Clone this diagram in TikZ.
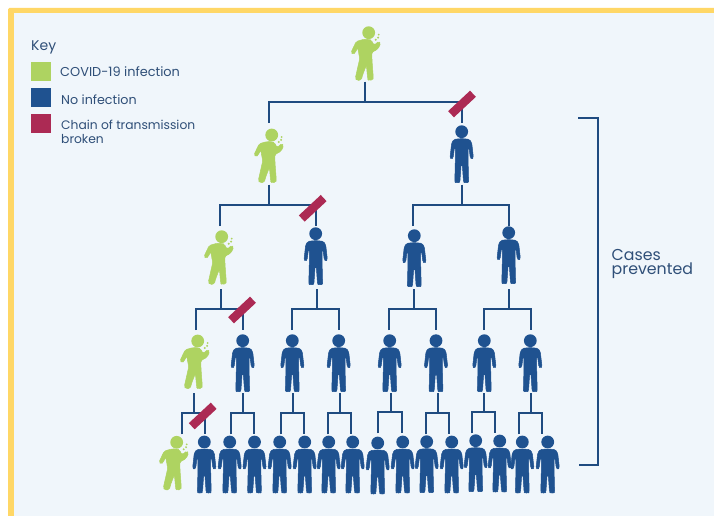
\documentclass[tikz,border=0pt]{standalone}
\usepackage{fontspec}
\setmainfont{Poppins}
\definecolor{paneBg}{HTML}{F0F6FB}
\definecolor{frameY}{HTML}{FFD766}
\definecolor{covGreen}{HTML}{AED361}
\definecolor{noBlue}{HTML}{1F5290}
\definecolor{lineBlue}{HTML}{1F4B80}
\definecolor{cutRed}{HTML}{AC2A54}
\definecolor{txtBlue}{HTML}{2F4F78}
\tikzset{
  bluefig/.pic={
    \fill[noBlue] (0,0) circle (6.4);
    \filldraw[fill=noBlue,draw=noBlue,line width=0.5pt,line join=round,rounded corners=1.4pt]
      (0,6.9) -- (7.6,7.6) -- (10,11) -- (11.7,26) -- (10.2,27.4) -- (8.6,26.2) -- (7.2,15.5)
      -- (6.4,16) -- (6.4,29) -- (6.9,50) -- (6,51) -- (2.8,51) -- (1.8,50) -- (0.6,33) -- (-0.6,33)
      -- (-1.8,50) -- (-2.8,51) -- (-6,51) -- (-6.9,50) -- (-6.4,29) -- (-6.4,16)
      -- (-7.2,15.5) -- (-8.6,26.2) -- (-10.2,27.4) -- (-11.7,26) -- (-10,11) -- (-7.6,7.6) -- cycle;
  },
  greenfig/.pic={
    \fill[covGreen] (0,0) circle (6.4);
    \fill[covGreen] (7,7) circle (1.1) (9.4,4.9) circle (1.1) (10,2) circle (1.0);
    \filldraw[fill=covGreen,draw=covGreen,line width=0.5pt,line join=round,rounded corners=1.6pt]
      (0.5,6.8) -- (-5,6.6) -- (-12.5,8.8) -- (-17.8,20) -- (-15.5,21.8) -- (-13.5,20) -- (-11,14.8)
      -- (-9,26) -- (-13.4,45.5) -- (-12,47.7) -- (-7.4,47.4) -- (-6,42) -- (-2.3,32.5)
      -- (-1,46.5) -- (0,47.5) -- (4,47.5) -- (4.6,45) -- (3.4,29) -- (3,19.5) -- (5.5,18.5)
      -- (9.5,16) -- (12,10.5) -- (10,8.6) -- (8,10.5) -- (5.2,12.5) -- (2.7,7.5) -- cycle;
  },
  conn/.style={draw=lineBlue,line width=1.8pt},
  cut/.style={fill=cutRed,rotate=43,minimum width=30pt,minimum height=8.5pt,inner sep=0pt},
  keybox/.style={minimum width=20pt,minimum height=19.5pt,inner sep=0pt},
  keytxt/.style={anchor=west,inner sep=0pt,text=txtBlue,align=left},
  slot/.style={minimum width=24pt,minimum height=58pt,inner sep=0pt}
}
% name, kind, head x, head y, in x, in y, out x, out y
\newcommand{\person}[8]{%
  \node[slot] (#1) at (#3,#4+22) {};
  \pic at (#3,#4) {#2};
  \coordinate (#1-in) at (#5,#6);
  \coordinate (#1-out) at (#7,#8);
}
% parent, left child, right child, bus y
\newcommand{\branch}[4]{%
  \coordinate (bus-#1) at (0,#4);
  \draw[conn] (#1-out) -- (#1-out |- bus-#1);
  \draw[conn] (#2-in) -- (#2-in |- bus-#1) -- (#3-in |- bus-#1) -- (#3-in);
}
\begin{document}
\begin{tikzpicture}[x=1pt,y=-1pt]
\useasboundingbox (0,0) rectangle (714,516);
\fill[white] (0,0) rectangle (714,516);
\fill[frameY,rounded corners=1.5pt] (8,8) -- (716,8) -- (716,518) -- (8,518) -- cycle;
\fill[paneBg] (13.5,13.5) rectangle (714,516);
% key
\node[keytxt,font=\fontsize{14}{16}\selectfont] (keyhead) at (31,47) {Key};
\node[keybox,fill=covGreen] (k1) at (41,71.5) {};
\node[keybox,fill=noBlue] (k2) at (41,97.5) {};
\node[keybox,fill=cutRed] (k3) at (41,123.5) {};
\node[keytxt,font=\fontsize{12.9}{14}\selectfont] (t1) at (60,72) {COVID-19 infection};
\node[keytxt,font=\fontsize{12.7}{14}\selectfont] (t2) at (61,100) {No infection};
\node[keytxt,font=\fontsize{12.3}{14}\selectfont] (t3) at (61,132) {Chain of transmission\\broken};
% people
\person{a}{greenfig}{368.7}{32.7}{364.7}{60}{364.7}{81.7}
\person{b1}{greenfig}{271.7}{135}{268.7}{123}{268.7}{184.7}
\person{b2}{bluefig}{461.7}{131.7}{461.7}{123}{461.7}{184.7}
\person{c1}{greenfig}{221.7}{236.7}{219.7}{226}{220.7}{289}
\person{c2}{bluefig}{315.7}{233.7}{315.7}{226}{317}{289}
\person{c3}{bluefig}{414.3}{235.7}{412.7}{226}{414}{289}
\person{c4}{bluefig}{508.7}{232.7}{509}{226}{509}{289}
\person{d1}{greenfig}{197.7}{341}{195.7}{330}{194}{393.3}
\person{d2}{bluefig}{242.7}{340.7}{242.7}{330}{242.7}{393.3}
\person{d3}{bluefig}{292.3}{340.7}{291.7}{330}{292.7}{393.3}
\person{d4}{bluefig}{338.7}{340.7}{338.7}{330}{339.7}{393.3}
\person{d5}{bluefig}{389.7}{340.7}{388.7}{330}{391}{393.3}
\person{d6}{bluefig}{436}{340.7}{436}{330}{438}{393.3}
\person{d7}{bluefig}{484.3}{340.7}{483.7}{330}{484}{393.3}
\person{d8}{bluefig}{530.3}{340.7}{531}{330}{531}{393.3}
\person{e1}{greenfig}{176.7}{442.3}{181.7}{434.3}{176}{490}
\person{e2}{bluefig}{204.3}{442}{205}{434.3}{204}{490}
\person{e3}{bluefig}{229.7}{442}{230.7}{434.3}{230}{490}
\person{e4}{bluefig}{254.5}{442}{254}{434.3}{254}{490}
\person{e5}{bluefig}{279.7}{442}{280.7}{434.3}{280}{490}
\person{e6}{bluefig}{304.7}{442}{304}{434.3}{304}{490}
\person{e7}{bluefig}{328.7}{442}{327.7}{434.3}{328}{490}
\person{e8}{bluefig}{352.7}{442}{351.3}{434.3}{352}{490}
\person{e9}{bluefig}{377.7}{443}{378.3}{433.3}{378}{490}
\person{e10}{bluefig}{402.7}{442}{402.3}{433.3}{402}{490}
\person{e11}{bluefig}{426.7}{441.7}{425.7}{434.3}{426}{490}
\person{e12}{bluefig}{451.7}{442}{449.3}{434.3}{450}{490}
\person{e13}{bluefig}{475.7}{440.7}{471.7}{433.3}{474}{490}
\person{e14}{bluefig}{499.7}{441}{495}{433.3}{498}{490}
\person{e15}{bluefig}{522.3}{442}{519}{434.3}{522}{490}
\person{e16}{bluefig}{547.7}{442}{542.3}{434.3}{546}{490}
% connectors
\branch{a}{b1}{b2}{102.3}
\branch{b1}{c1}{c2}{205.3}
\branch{b2}{c3}{c4}{205.3}
\branch{c1}{d1}{d2}{309}
\branch{c2}{d3}{d4}{309}
\branch{c3}{d5}{d6}{309}
\branch{c4}{d7}{d8}{309}
\branch{d1}{e1}{e2}{413.3}
\branch{d2}{e3}{e4}{413.3}
\branch{d3}{e5}{e6}{413.3}
\branch{d4}{e7}{e8}{413.3}
\branch{d5}{e9}{e10}{412}
\branch{d6}{e11}{e12}{413.3}
\branch{d7}{e13}{e14}{412}
\branch{d8}{e15}{e16}{413.3}
% cuts
\node[cut] (x1) at (462,104) {};
\node[cut] (x2) at (312.7,208.3) {};
\node[cut] (x3) at (242,310) {};
\node[cut] (x4) at (202.7,416) {};
% bracket
\coordinate (br1) at (578,118.3);
\coordinate (br2) at (598.3,118.3);
\coordinate (br3) at (598.3,464.7);
\coordinate (br4) at (579,464.7);
\draw[conn] (br1) -- (br2) -- (br3) -- (br4);
\node[keytxt,font=\fontsize{15.8}{14}\selectfont] (cp) at (611.5,263.5) {Cases\\prevented};
\end{tikzpicture}
\end{document}
